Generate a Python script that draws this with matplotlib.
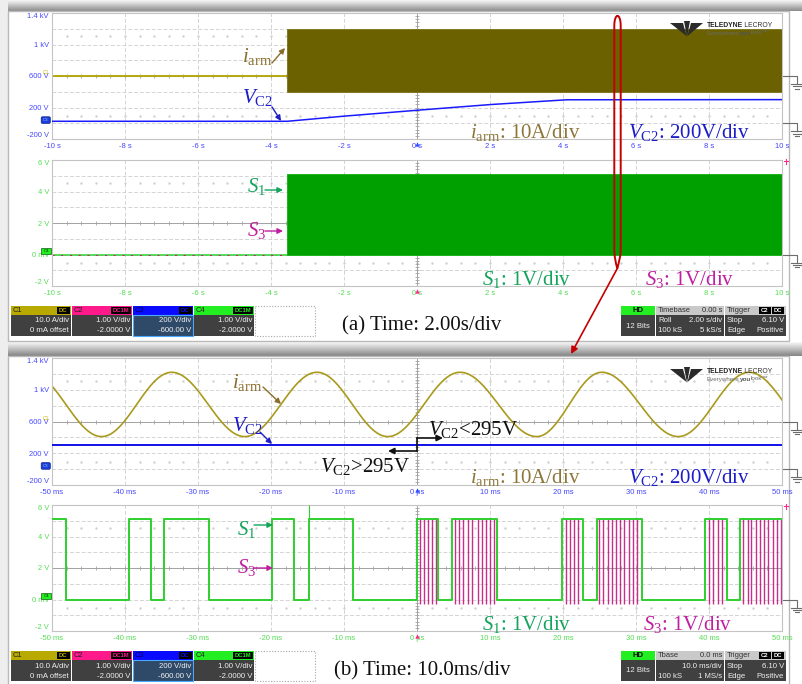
import numpy as np
import matplotlib
matplotlib.use("Agg")
import matplotlib.pyplot as plt
from matplotlib.patches import Rectangle, Polygon, PathPatch, FancyBboxPatch
from matplotlib.path import Path

W, H = 803, 684

plt.rcParams.update({
    "font.family": ["Liberation Sans", "DejaVu Sans"],
    "mathtext.fontset": "custom",
    "mathtext.rm": "Liberation Serif",
    "mathtext.it": "Liberation Serif:italic",
    "mathtext.bf": "Liberation Serif:bold",
})
SERIF = "Liberation Serif"

# ---------------- screen scales ----------------
UPPER_YLIM = (-200.0, 1400.0)          # C3 volts: 200 V/div, -600 V offset
LOWER_YLIM = (-2.0, 6.0)               # C4 volts: 1 V/div, -2 V offset
UPPER_YTICKS = [1400, 1000, 600, 200, -200]
UPPER_YLABELS = ["1.4 kV", "1 kV", "600 V", "200 V", "-200 V"]
LOWER_YTICKS = [6, 4, 2, 0, -2]
LOWER_YLABELS = ["6 V", "4 V", "2 V", "0 mV", "-2 V"]
C1_ZERO = 600.0                        # C1 ground reference on the C3 grid
C1_GAIN = 200.0 / 10.0                 # grid volts per ampere (10 A/div)

# ---------------- (a) roll mode, 2.00 s/div ----------------
a_xlim = (-10.0, 10.0)
a_xticks = [-10, -8, -6, -4, -2, 0, 2, 4, 6, 8, 10]
a_xlabels = ["-10 s", "-8 s", "-6 s", "-4 s", "-2 s", "0 s",
             "2 s", "4 s", "6 s", "8 s", "10 s"]
a_t_enable = -3.55                     # s, converter starts switching
a_iarm_idle = 0.0                      # A
a_iarm_env = (-10.0, 30.0)             # A, envelope of the 50 Hz arm current
a_vc2_t = [-10.0, -3.55, -2.0, 0.0, 2.0, 4.1, 10.0]
a_vc2_v = [25.0, 25.0, 90.0, 165.0, 237.0, 298.0, 300.0]
a_s_idle = 0.0
a_s_env = (0.0, 5.1)                   # V, gate signals toggling fast

# ---------------- (b) 10.0 ms/div ----------------
b_xlim = (-50.0, 50.0)
b_xticks = [-50, -40, -30, -20, -10, 0, 10, 20, 30, 40, 50]
b_xlabels = ["-50 ms", "-40 ms", "-30 ms", "-20 ms", "-10 ms", "0 ps",
             "10 ms", "20 ms", "30 ms", "40 ms", "50 ms"]
b_iarm_ext_t = [-53.0, -43.2, -33.6, -23.6, -13.7, -4.0, 5.9, 16.4, 25.3, 35.8, 45.5, 55.4]
b_iarm_ext_a = [31.0, -9.5, 31.0, -9.5, 31.0, -9.5, 31.0, -9.5, 31.0, -9.5, 31.0, -9.5]
b_vc2_v = 298.0
b_s_hi, b_s_lo = 5.1, 0.0
b_s1_edges = [-48.1, -39.4, -36.5, -34.6, -28.5, -19.8, -16.8, -14.8, -8.7,
              0.0, 2.9, 4.8, 11.0, 19.8, 22.7, 24.6, 30.8, 39.5, 42.5, 44.3]
b_s1_overshoot = (-14.8, 6.0)
b_s3_notch_t = [0.4, 0.96, 1.55, 2.1, 2.6,
                5.2, 5.8, 6.35, 7.0, 7.6, 8.3, 8.9, 9.5, 10.0, 10.6,
                20.4, 21.0, 21.5, 22.1,
                25.0, 25.5, 26.1, 26.7, 27.3, 27.8, 28.4, 29.0, 29.6, 30.1,
                40.0, 40.6, 41.2, 41.8,
                44.7, 45.3, 45.8, 46.4, 47.0, 47.6, 48.1, 48.7, 49.3, 49.8]
b_s3_notch_lo = -0.3

# ---------------- instrument status bar ----------------
chan_names = ["C1", "C2", "C3", "C4"]
chan_coupling = ["DC", "DC1M", "DC", "DC1M"]
chan_scale = ["10.0 A/div", "1.00 V/div", "200 V/div", "1.00 V/div"]
chan_offset = ["0 mA offset", "-2.0000 V", "-600.00 V", "-2.0000 V"]
chan_colors = ["#b8aa00", "#ff1a8c", "#0a0aff", "#22ee22"]
a_timebase = ["Timebase", "0.00 s", "Roll", "2.00 s/div", "100 kS", "5 kS/s"]
b_timebase = ["Tbase", "0.0 ms", "", "10.0 ms/div", "100 kS", "1 MS/s"]
trigger_info = ["Trigger", "C2", "DC", "Stop", "6.10 V", "Edge", "Positive"]
a_caption = "(a) Time: 2.00s/div"
b_caption = "(b) Time: 10.0ms/div"

# colours
OLIVE_LINE = "#b3a600"
OLIVE_FILL = "#6b6100"
OLIVE_SINE = "#a99a1c"
BLUE = "#1a1aff"
GREEN_FILL = "#00a000"
GREEN_LINE = "#2ecf2e"
MAGENTA = "#c2187f"
TXT_IARM = "#8a6d2b"
TXT_IARM2 = "#8c7638"
TXT_VC2 = "#1c1cc8"
TXT_S1 = "#14a45c"
TXT_S3 = "#c020a0"
LBL_BLUE = "#4646ff"
LBL_GREEN = "#55dd55"

fig = plt.figure(figsize=(W / 100, H / 100), dpi=100)
fig.patch.set_facecolor("white")


def px_axes(x0, y0, x1, y1, z=1):
    return fig.add_axes([x0 / W, 1 - y1 / H, (x1 - x0) / W, (y1 - y0) / H], zorder=z)


# background layer: panel frames and shadows
bg = fig.add_axes([0, 0, 1, 1], zorder=-5)
bg.axis("off")


def shade(ax, x0, x1, y0, y1, c_top, c_bot):
    grad = np.linspace(c_top, c_bot, 32).reshape(-1, 1)
    ax.imshow(grad, cmap="gray", vmin=0, vmax=1, aspect="auto",
              extent=[x0, x1, y1, y0], interpolation="bilinear", zorder=0)


shade(bg, 0, W, 0, 11, 0.97, 0.55)
shade(bg, 0, W, 342, 356, 0.97, 0.52)
shade(bg, 0, 8, 0, H, 0.93, 0.93)
for (yt, yb) in [(11, 341), (356, 690)]:
    bg.add_patch(Rectangle((8, yt), 781, yb - yt, facecolor="white",
                           edgecolor="#b9b9b9", lw=1.0, zorder=1))
bg.set_xlim(0, W)
bg.set_ylim(H, 0)


def scope_axes(box, xlim, ylim, yticks, ylabels, xticks, xlabels, lcolor):
    ax = px_axes(*box)
    ax.set_facecolor("white")
    ax.set_xlim(*xlim)
    ax.set_ylim(*ylim)
    xs = np.linspace(xlim[0], xlim[1], 11)
    ys = np.linspace(ylim[0], ylim[1], 9)
    for x in xs[1:-1]:
        if x != xs[5]:
            ax.axvline(x, color="#d4d4d4", lw=0.7, ls=(0, (4, 2)), zorder=0.3)
    for y in ys[1:-1]:
        if y != ys[4]:
            ax.axhline(y, color="#d4d4d4", lw=0.7, ls=(0, (4, 2)), zorder=0.3)
    xc, yc = xs[5], ys[4]
    ax.axvline(xc, color="#a2a2a2", lw=0.7, zorder=0.4)
    ax.axhline(yc, color="#a2a2a2", lw=0.7, zorder=0.4)
    dx = (xlim[1] - xlim[0]) / 50.0
    dy = (ylim[1] - ylim[0]) / 40.0
    mx = xlim[0] + dx * np.arange(51)
    my = ylim[0] + dy * np.arange(41)
    ax.plot(mx, np.full_like(mx, yc), ls="none", marker="|", ms=3, mew=0.6,
            color="#a2a2a2", zorder=0.4)
    ax.plot(np.full_like(my, xc), my, ls="none", marker="_", ms=3, mew=0.6,
            color="#a2a2a2", zorder=0.4)
    for yr in (ys[1] + 0.45 * (ys[1] - ys[0]), ys[7] - 0.45 * (ys[1] - ys[0])):
        ax.plot(mx[1:-1], np.full(len(mx) - 2, yr), ls="none", marker="s", ms=0.7,
                color="#d0d0d0", zorder=0.3)
    for s in ax.spines.values():
        s.set_color("#c4c4c4")
        s.set_linewidth(0.8)
    ax.set_yticks(yticks)
    ax.set_yticklabels(ylabels, fontsize=5.4, color=lcolor)
    labs = ax.get_yticklabels()
    labs[0].set_va("top")
    labs[-1].set_va("bottom")
    ax.set_xticks(xticks)
    ax.set_xticklabels(xlabels, fontsize=5.5, color=lcolor)
    ax.tick_params(axis="both", length=0)
    ax.tick_params(axis="y", pad=2.2)
    ax.tick_params(axis="x", pad=3.0)
    return ax


A1 = (52, 13, 782, 139)
A2 = (52, 160, 782, 286)
B1 = (52, 358, 782, 485)
B2 = (52, 505, 782, 631)

ax_a1 = scope_axes(A1, a_xlim, UPPER_YLIM, UPPER_YTICKS, UPPER_YLABELS, a_xticks, a_xlabels, LBL_BLUE)
ax_a2 = scope_axes(A2, a_xlim, LOWER_YLIM, LOWER_YTICKS, LOWER_YLABELS, a_xticks, a_xlabels, LBL_GREEN)
ax_b1 = scope_axes(B1, b_xlim, UPPER_YLIM, UPPER_YTICKS, UPPER_YLABELS, b_xticks, b_xlabels, LBL_BLUE)
ax_b2 = scope_axes(B2, b_xlim, LOWER_YLIM, LOWER_YTICKS, LOWER_YLABELS, b_xticks, b_xlabels, LBL_GREEN)


def c1_grid(i_amp):
    return C1_ZERO + np.asarray(i_amp, dtype=float) * C1_GAIN


# ---- (a) upper: arm current and capacitor voltage ----
ax_a1.plot([a_xlim[0], a_t_enable], c1_grid([a_iarm_idle, a_iarm_idle]),
           color=OLIVE_LINE, lw=1.3, zorder=2)
ax_a1.fill_between([a_t_enable, a_xlim[1]], c1_grid(a_iarm_env[0]), c1_grid(a_iarm_env[1]),
                   facecolor=OLIVE_FILL, edgecolor="#7c7318", lw=0.6, zorder=2)
ax_a1.plot(a_vc2_t, a_vc2_v, color=BLUE, lw=1.1, zorder=3)

# ---- (a) lower: gate signals ----
ax_a2.plot([a_xlim[0], a_t_enable], [a_s_idle, a_s_idle], color=GREEN_LINE, lw=1.1, zorder=2)
ax_a2.plot([a_xlim[0], a_t_enable], [a_s_idle, a_s_idle], color=MAGENTA, lw=0.7,
           ls=(0, (2, 7)), zorder=2.5)
ax_a2.fill_between([a_t_enable, a_xlim[1]], a_s_env[0], a_s_env[1],
                   facecolor=GREEN_FILL, edgecolor="#10b010", lw=0.6, zorder=2)


# ---- (b) upper ----
def half_cosine(tk, vk, n=80):
    ts, vs = [], []
    for t0, t1, v0, v1 in zip(tk[:-1], tk[1:], vk[:-1], vk[1:]):
        u = np.linspace(0.0, 1.0, n, endpoint=False)
        ts.append(t0 + (t1 - t0) * u)
        vs.append(v0 + (v1 - v0) * (1 - np.cos(np.pi * u)) / 2)
    ts.append([tk[-1]])
    vs.append([vk[-1]])
    return np.concatenate(ts), np.concatenate(vs)


bt, bi = half_cosine(b_iarm_ext_t, b_iarm_ext_a)
ax_b1.plot(bt, c1_grid(bi), color=OLIVE_SINE, lw=1.2, zorder=2)
ax_b1.plot(b_xlim, [b_vc2_v, b_vc2_v], color="#1010e8", lw=1.4, zorder=3)


# ---- (b) lower ----
def step_wave(t0, t1, edges, hi, lo, start_hi=True):
    state = start_hi
    t, v = [t0], [hi if state else lo]
    for e in edges:
        cur = hi if state else lo
        state = not state
        t += [e, e]
        v += [cur, hi if state else lo]
    t.append(t1)
    v.append(hi if state else lo)
    return t, v


ax_b2.vlines(b_s3_notch_t, b_s3_notch_lo, b_s_hi, color=MAGENTA, lw=1.0, alpha=0.9, zorder=2)
st, sv = step_wave(b_xlim[0], b_xlim[1], b_s1_edges, b_s_hi, b_s_lo)
ax_b2.plot(st, sv, color=GREEN_LINE, lw=1.4, zorder=3)
ax_b2.vlines([b_s1_overshoot[0]], b_s_hi, b_s1_overshoot[1], color=GREEN_LINE, lw=0.8, zorder=3)

# ---------------- overlay: annotations, markers, status bar ----------------
ov = fig.add_axes([0, 0, 1, 1], zorder=20)
ov.set_xlim(0, W)
ov.set_ylim(H, 0)
ov.axis("off")
ov.patch.set_alpha(0)
renderer = fig.canvas.get_renderer()


def ypx(box, ylim, v):
    return box[1] + (ylim[1] - v) / (ylim[1] - ylim[0]) * (box[3] - box[1])


def label(x, y, s, color, size=15):
    ov.text(x, y, s, color=color, fontsize=size, family=SERIF, ha="left", va="baseline")


def arrow(x0, y0, x1, y1, color, lw=1.0, ms=8):
    ov.annotate("", xy=(x1, y1), xytext=(x0, y0),
                arrowprops=dict(arrowstyle="-|>", color=color, lw=lw,
                                mutation_scale=ms, shrinkA=0, shrinkB=0))


IARM = r"$i_{\mathrm{arm}}$"
VC2 = r"$V_{\mathrm{C2}}$"
S1 = r"$S_{\mathrm{1}}$"
S3 = r"$S_{\mathrm{3}}$"

# panel (a)
label(242, 62, IARM, TXT_IARM)
arrow(272, 63, 285, 48, TXT_IARM)
label(242, 103, VC2, TXT_VC2)
arrow(272, 107, 281, 121, TXT_VC2)
label(470, 138, IARM + ": 10A/div", TXT_IARM2)
label(628, 138, VC2 + ": 200V/div", TXT_VC2)
label(247, 192, S1, TXT_S1)
arrow(265, 190, 283, 190, TXT_S1)
label(247, 236, S3, TXT_S3)
arrow(265, 231, 283, 231, TXT_S3)
label(482, 285, S1 + ": 1V/div", TXT_S1)
label(645, 285, S3 + ": 1V/div", TXT_S3)

# panel (b)
label(232, 388, IARM, TXT_IARM)
arrow(263, 387, 281, 404, TXT_IARM)
label(232, 431, VC2, TXT_VC2)
arrow(260, 432, 272, 444, TXT_VC2)
label(428, 435, VC2 + "<295V", "#111111")
label(320, 472, VC2 + ">295V", "#111111")
ov.plot([417, 417], [451, 438], color="#111111", lw=1.2)
arrow(417, 451, 388, 451, "#111111", lw=1.2, ms=9)
arrow(417, 438, 443, 438, "#111111", lw=1.2, ms=9)
label(470, 483, IARM + ": 10A/div", TXT_IARM2)
label(628, 483, VC2 + ": 200V/div", TXT_VC2)
label(237, 535, S1, TXT_S1)
arrow(254, 525, 273, 525, TXT_S1)
label(237, 573, S3, TXT_S3)
arrow(254, 568, 273, 568, TXT_S3)
label(482, 630, S1 + ": 1V/div", TXT_S1)
label(643, 630, S3 + ": 1V/div", TXT_S3)


# ground references on the right edge
def ground(y):
    c = "#6c6c6c"
    ov.plot([783, 797, 797], [y, y, y + 8], color=c, lw=0.8)
    for k, half in enumerate([6, 4, 2]):
        ov.plot([797 - half, 797 + half], [y + 8 + 2.3 * k] * 2, color=c, lw=0.8)


ground(ypx(A1, UPPER_YLIM, C1_ZERO))
ground(ypx(A1, UPPER_YLIM, 0.0))
ground(ypx(A2, LOWER_YLIM, 0.0))
ground(ypx(B1, UPPER_YLIM, C1_ZERO))
ground(ypx(B1, UPPER_YLIM, 0.0))
ground(ypx(B2, LOWER_YLIM, 0.0))


# channel markers at the left edge
def chan_tags(box_u, box_l):
    yc1 = ypx(box_u, UPPER_YLIM, C1_ZERO)
    ov.text(45.5, yc1 - 3.5, "C1", fontsize=3.6, color="#c8b400", ha="center", va="center")
    y3 = ypx(box_u, UPPER_YLIM, 40.0)
    ov.add_patch(FancyBboxPatch((41.5, y3 - 3), 8.5, 6, boxstyle="round,pad=0.3,rounding_size=1.2",
                                facecolor="#1a3fd8", edgecolor="#0a1f90", lw=0.5))
    ov.text(45.7, y3, "C3", fontsize=3.2, color="#9fc0ff", ha="center", va="center")
    y4 = ypx(box_l, LOWER_YLIM, 0.2)
    ov.add_patch(Rectangle((41.5, y4 - 3), 9.5, 6, facecolor="#22ee22", edgecolor="#106010", lw=0.5))
    ov.text(46.2, y4, "C4", fontsize=3.2, color="#063006", ha="center", va="center")


chan_tags(A1, A2)
chan_tags(B1, B2)

# trigger position / level markers
for box, col in [(A1, "#2f4fff"), (A2, "#ff2a90"), (B1, "#2f4fff"), (B2, "#ff2a90")]:
    ov.plot([417], [box[3] + 4.5], marker="^", ms=3.2, color=col, mec="none")
for box in (A2, B2):
    ov.plot([786, 786], [box[1] - 1, box[1] + 4], color="#ff2a90", lw=0.8)
    ov.plot([784, 788], [box[1] + 1, box[1] + 1], color="#ff2a90", lw=0.8)


def text_run(x, y, parts):
    """Place consecutive text pieces side by side starting at x."""
    for s, kw in parts:
        t = ov.text(x, y, s, ha="left", va="center", **kw)
        x += t.get_window_extent(renderer=renderer).width


# TELEDYNE LECROY mark
def logo(x, y):
    dark = "#2b2b2b"
    for pts in ([(x, y + 2), (x + 13, y + 2), (x + 16.5, y + 15)],
                [(x + 14, y), (x + 20, y), (x + 17, y + 16)],
                [(x + 21, y + 2), (x + 33, y + 2), (x + 17.5, y + 15)]):
        ov.add_patch(Polygon(pts, closed=True, facecolor=dark, edgecolor="none"))
    text_run(x + 37, y + 4.5, [("TELEDYNE", dict(fontsize=4.9, weight="bold", color="#202020")),
                               ("\u2009LECROY", dict(fontsize=4.9, color="#303030"))])
    text_run(x + 37, y + 12, [("Everywhere", dict(fontsize=4.5, color="#6a6a6a")),
                              ("you", dict(fontsize=4.5, weight="bold", color="#555555")),
                              ("look\u2122", dict(fontsize=4.5, color="#6a6a6a"))])


logo(670, 21)
logo(670, 367)


# status bar
def status_bar(y0, tb, caption):
    hh, bh = 9, 21
    xs = [11, 72, 133, 194]
    w = 60
    for k in range(4):
        x0 = xs[k]
        body = "#2f4a68" if k == 2 else "#404040"
        ov.add_patch(Rectangle((x0, y0), w, hh, facecolor=chan_colors[k], edgecolor="none"))
        ov.add_patch(Rectangle((x0, y0 + hh), w, bh, facecolor=body,
                               edgecolor="#4aa8ff" if k == 2 else "none", lw=0.8))
        ov.text(x0 + 2, y0 + hh / 2 + 0.3, chan_names[k], fontsize=5.4,
                color="#00005a" if k == 2 else "#202020", ha="left", va="center")
        cw = 7 + 3.2 * len(chan_coupling[k])
        ov.add_patch(Rectangle((x0 + w - cw - 1, y0 + 1), cw, hh - 2, facecolor="black",
                               edgecolor="none"))
        ov.text(x0 + w - cw / 2 - 1, y0 + hh / 2, chan_coupling[k], fontsize=4.2,
                weight="bold", color=chan_colors[k], ha="center", va="center")
        ov.text(x0 + w - 2, y0 + 15, chan_scale[k], fontsize=5.6, color="#f0f0f0",
                ha="right", va="center")
        ov.text(x0 + w - 2, y0 + 25, chan_offset[k], fontsize=5.6, color="#f0f0f0",
                ha="right", va="center")
    ov.add_patch(Rectangle((255, y0), 60, hh + bh, facecolor="white", edgecolor="#a8a8a8",
                           lw=0.8, ls=(0, (1, 1.5))))
    ov.text(422, y0 + 20, caption, fontsize=15, family=SERIF, color="#111111",
            ha="center", va="center")
    # acquisition mode
    ov.add_patch(Rectangle((621, y0), 34, hh, facecolor="#22ee22", edgecolor="none"))
    ov.add_patch(Rectangle((621, y0 + hh), 34, bh, facecolor="#404040", edgecolor="none"))
    ov.text(638, y0 + hh / 2, "HD", fontsize=5.6, weight="bold", color="#101010",
            ha="center", va="center")
    ov.text(638, y0 + 20, "12 Bits", fontsize=5.6, color="#f0f0f0", ha="center", va="center")
    # timebase
    ov.add_patch(Rectangle((656, y0), 68, hh, facecolor="#c9c9c9", edgecolor="none"))
    ov.add_patch(Rectangle((656, y0 + hh), 68, bh, facecolor="#404040", edgecolor="none"))
    ov.text(658, y0 + hh / 2, tb[0], fontsize=5.4, color="#303030", ha="left", va="center")
    ov.text(722, y0 + hh / 2, tb[1], fontsize=5.4, color="#303030", ha="right", va="center")
    ov.text(658, y0 + 15, tb[2], fontsize=5.6, color="#f0f0f0", ha="left", va="center")
    ov.text(722, y0 + 15, tb[3], fontsize=5.6, color="#f0f0f0", ha="right", va="center")
    ov.text(658, y0 + 25, tb[4], fontsize=5.6, color="#f0f0f0", ha="left", va="center")
    ov.text(722, y0 + 25, tb[5], fontsize=5.6, color="#f0f0f0", ha="right", va="center")
    # trigger
    ov.add_patch(Rectangle((725, y0), 61, hh, facecolor="#c9c9c9", edgecolor="none"))
    ov.add_patch(Rectangle((725, y0 + hh), 61, bh, facecolor="#404040", edgecolor="none"))
    ov.text(727, y0 + hh / 2, trigger_info[0], fontsize=5.4, color="#303030", ha="left", va="center")
    for bx, s in [(759, trigger_info[1]), (772, trigger_info[2])]:
        ov.add_patch(Rectangle((bx, y0 + 1), 12, hh - 2, facecolor="black", edgecolor="none"))
        ov.text(bx + 6, y0 + hh / 2, s, fontsize=4.2, weight="bold", color="white",
                ha="center", va="center")
    ov.text(727, y0 + 15, trigger_info[3], fontsize=5.6, color="#f0f0f0", ha="left", va="center")
    ov.text(784, y0 + 15, trigger_info[4], fontsize=5.6, color="#f0f0f0", ha="right", va="center")
    ov.text(727, y0 + 25, trigger_info[5], fontsize=5.6, color="#f0f0f0", ha="left", va="center")
    ov.text(784, y0 + 25, trigger_info[6], fontsize=5.6, color="#f0f0f0", ha="right", va="center")


status_bar(306, a_timebase, a_caption)
status_bar(651, b_timebase, b_caption)

# zoom-in highlight: narrow loop around the instant shown in (b)
M, L, C = Path.MOVETO, Path.LINETO, Path.CURVE4
loop = Path([(617.3, 268.5), (615.5, 262), (614.3, 256), (614.3, 249),
             (614.3, 26), (614.3, 12.5), (620.7, 12.5), (620.7, 26),
             (620.7, 249), (620.7, 256), (619.0, 262), (617.3, 268.5)],
            [M, C, C, C, L, C, C, C, L, C, C, C])
ov.add_patch(PathPatch(loop, facecolor="none", edgecolor="#c40000", lw=1.4))
arrow(617.3, 268.5, 571, 354, "#c40000", lw=1.2, ms=10)

fig.savefig("out.png", dpi=100)
